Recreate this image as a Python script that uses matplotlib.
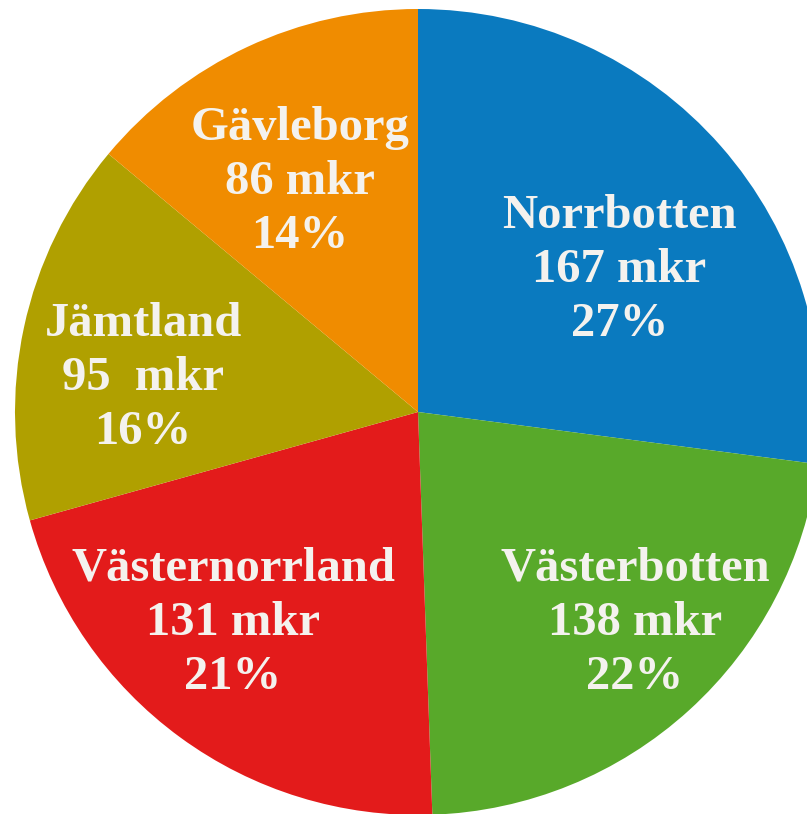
import matplotlib.pyplot as plt

regions = ["Norrbotten", "Västerbotten", "Västernorrland", "Jämtland", "Gävleborg"]
amounts = [167, 138, 131, 95, 86]
amount_labels = ["167 mkr", "138 mkr", "131 mkr", "95  mkr", "86 mkr"]
shares = ["27%", "22%", "21%", "16%", "14%"]
colors = ["#0a7abf", "#58a92a", "#e31b1b", "#b0a000", "#f08c00"]

# label centres, in units of pie radius
label_pos = [(0.50, 0.352), (0.538, -0.524), (-0.459, -0.524),
             (-0.682, 0.084), (-0.293, 0.571)]

W, H = 807, 814
cx, cy, r = 418, 412, 403

fig = plt.figure(figsize=(W / 100, H / 100), dpi=100)
ax = fig.add_axes([(cx - r) / W, (H - cy - r) / H, 2 * r / W, 2 * r / H])

ax.pie(
    amounts,
    colors=colors,
    startangle=90,
    counterclock=False,
    radius=1,
    wedgeprops=dict(linewidth=0),
)
ax.set_xlim(-1, 1)
ax.set_ylim(-1, 1)
ax.set_aspect("auto")
ax.axis("off")

for name, amt, pct, (x, y) in zip(regions, amount_labels, shares, label_pos):
    ax.text(
        x, y,
        f"{name}\n{amt}\n{pct}",
        ha="center",
        va="center",
        color="#f4f2ee",
        fontsize=35,
        fontweight="bold",
        family="Liberation Serif",
        linespacing=1.3,
    )

fig.savefig("out.png", dpi=100)
